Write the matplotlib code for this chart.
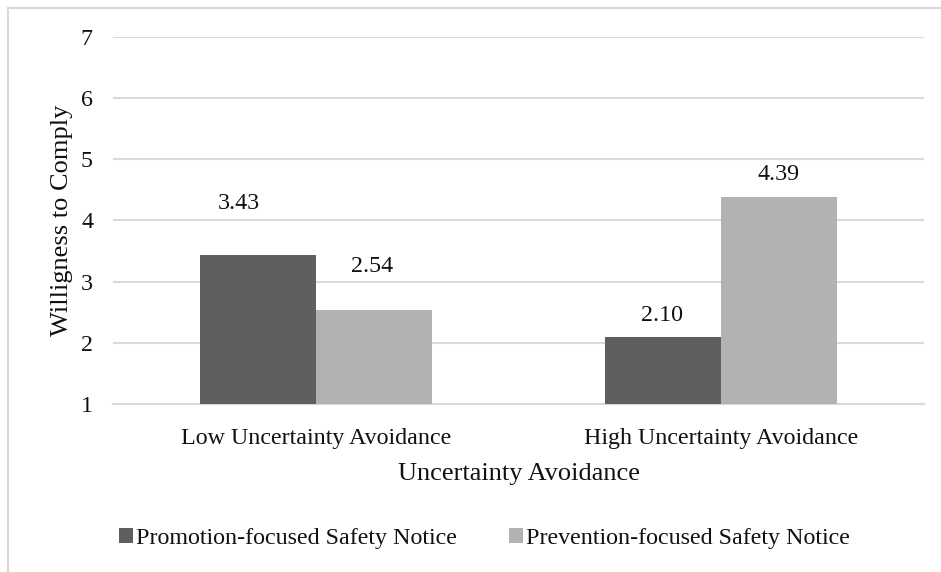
import matplotlib
matplotlib.use("Agg")
import matplotlib.pyplot as plt
from matplotlib.lines import Line2D
from matplotlib.patches import Patch
import numpy as np

categories = ["Low Uncertainty Avoidance", "High Uncertainty Avoidance"]
series_names = ["Promotion-focused Safety Notice", "Prevention-focused Safety Notice"]
promotion = [3.43, 2.10]
prevention = [2.54, 4.39]
yticks = [1, 2, 3, 4, 5, 6, 7]

colors = ["#5f5f5f", "#b2b2b2"]
grid_c = "#d9d9d9"
txt_c = "#111111"
FONT = "Liberation Serif"
plt.rcParams["font.family"] = [FONT, "DejaVu Serif"]
FS = 17.3
FS_T = 19

fig = plt.figure(figsize=(9.41, 5.72), dpi=100)
W, H = 941, 572
ax = fig.add_axes([113 / W, 1 - 404 / H, (924 - 113) / W, (404 - 37) / H])

x = np.arange(len(categories))
bw = 116 / 405.5
b1 = ax.bar(x - bw / 2, [v - 1 for v in promotion], bw, bottom=1, color=colors[0], zorder=3)
b2 = ax.bar(x + bw / 2, [v - 1 for v in prevention], bw, bottom=1, color=colors[1], zorder=3)

# data labels (manually offset in the original, offsets in points)
offsets1 = [(-13.5, 37), (-0.7, 15.3)]
offsets2 = [(-1, 31.5), (-0.7, 16.2)]
for rects, vals, offs in ((b1, promotion, offsets1), (b2, prevention, offsets2)):
    for r, v, (dx, dy) in zip(rects, vals, offs):
        ax.annotate(f"{v:.2f}", (r.get_x() + r.get_width() / 2, v),
                    xytext=(dx, dy), textcoords="offset points",
                    ha="center", va="center", fontsize=FS, color=txt_c)

ax.set_xlim(-0.5, 1.5)
ax.set_ylim(1, 7)
ax.set_yticks(yticks)
ax.set_yticklabels([str(t) for t in yticks])
ax.set_xticks(x)
ax.set_xticklabels(categories)
ax.yaxis.grid(True, color=grid_c, linewidth=1.5, zorder=0)
ax.set_axisbelow(True)
for s in ["top", "right", "left"]:
    ax.spines[s].set_visible(False)
ax.spines["bottom"].set_color(grid_c)
ax.spines["bottom"].set_linewidth(1.5)
ax.tick_params(axis="both", length=0, labelsize=FS, colors=txt_c)
ax.tick_params(axis="y", pad=14.4)
ax.tick_params(axis="x", pad=17.5)

ax.set_ylabel("Willigness to Comply", fontsize=FS_T, color=txt_c, labelpad=5.8)
ax.set_xlabel("Uncertainty Avoidance", fontsize=FS_T, color=txt_c, labelpad=10)

handles = [Patch(facecolor=c, edgecolor="none") for c in colors]
fig.legend(handles, series_names, loc="center", bbox_to_anchor=(484.5 / W, 1 - 538.5 / H),
           ncol=2, frameon=False, fontsize=FS, handlelength=0.58, handleheight=0.58,
           handletextpad=0.1, columnspacing=2.2, labelcolor=txt_c)

# outer chart frame (cropped at right and bottom)
fig.add_artist(Line2D([8 / W, 1], [1 - 8 / H, 1 - 8 / H], color=grid_c, lw=1.5, transform=fig.transFigure))
fig.add_artist(Line2D([8 / W, 8 / W], [0, 1 - 8 / H], color=grid_c, lw=1.5, transform=fig.transFigure))

fig.savefig("out.png", dpi=100)
